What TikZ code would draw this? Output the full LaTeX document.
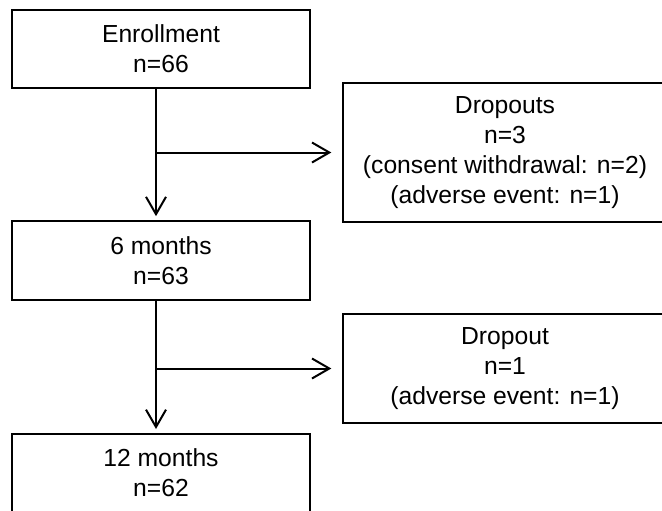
\documentclass[tikz,border=0pt]{standalone}
\usepackage{fontspec}
\setmainfont{Liberation Sans}
\usepackage{tikz}
\usetikzlibrary{arrows.meta,calc,positioning}

\begin{document}
\begin{tikzpicture}[x = 0.75pt, y = -0.75pt,
		stagebox/.style = {draw, line width = 1.5pt, align = center, inner sep = 0pt,
			font = \fontsize{18.5}{22.5}\selectfont},
		flow/.style = {line width = 1.5pt, -{Straight Barb[length = 13pt, width = 15pt, line width = 1.5pt]}}]
		\useasboundingbox (0,0) rectangle (662,511);
		\clip (0,0) rectangle (662,511);
		
		\node[stagebox, minimum width = 223.5pt, minimum height = 58.5pt] (enrol) at (161,49) {Enrollment\\n=66};
		\node[stagebox, minimum width = 223.5pt, minimum height = 59pt] (m6) at (161,260.5) {6 months\\n=63};
		\node[stagebox, minimum width = 223.5pt, minimum height = 58.5pt] (m12) at (161,473) {12 months\\n=62};
		
		\node[stagebox, minimum width = 243pt, minimum height = 104pt] (drop1) at (505,152.5) {Dropouts\\n=3\\(consent withdrawal: n=2)\\(adverse event: n=1)};
		\node[stagebox, minimum width = 243pt, minimum height = 82pt] (drop2) at (505,368.5) {Dropout\\n=1\\(adverse event: n=1)};
		
		\coordinate (spine) at (156,0);
		\draw[flow, shorten > = 3pt] (enrol.south -| spine) -- (m6.north -| spine);
		\draw[flow, shorten > = 8pt] (spine |- drop1.west) -- (drop1.west);
		\draw[flow, shorten > = 3pt] (m6.south -| spine) -- (m12.north -| spine);
		\draw[flow, shorten > = 8pt] (spine |- drop2.west) -- (drop2.west);
\end{tikzpicture}
\end{document}
